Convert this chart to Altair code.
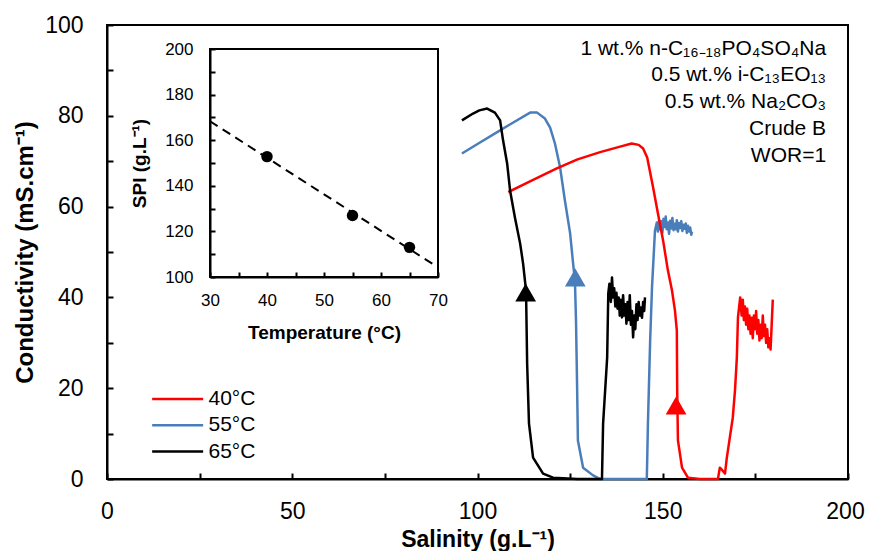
import altair as alt
import pandas as pd

# ---------------- data ----------------
series_names = ["40°C", "55°C", "65°C"]
series_colors = ["#FF0000", "#4A7EBB", "#000000"]

# 40 °C (red)
sal_40 = [108.3, 115.0, 121.4, 127.0, 133.1, 138.0, 141.6, 143.5, 144.7, 145.8, 147.4, 148.7,
          150.1, 151.4, 152.5, 153.3, 153.8, 153.9, 154.1, 155.2, 156.8, 160.0, 164.9, 165.4,
          166.0, 166.8, 167.3, 168.1, 168.9, 169.5, 170.0, 170.3, 170.9,
          171.3, 171.6, 171.9, 172.2, 172.5, 172.8, 173.1, 173.4, 173.7, 174.0, 174.3, 174.6,
          174.9, 175.2, 175.5, 175.8, 176.1, 176.4, 176.7, 177.0, 177.3, 177.6, 177.9, 178.2,
          178.5, 178.8, 179.1, 179.4, 179.7]
cond_40 = [63.2, 65.9, 68.4, 70.4, 72.0, 73.1, 73.9, 73.6, 72.8, 70.8, 64.2, 58.5,
           52.5, 45.9, 41.5, 37.1, 32.7, 19.5, 8.5, 2.5, 0.3, 0.0, 0.0, 2.5,
           2.0, 1.2, 4.7, 9.1, 13.5, 19.5, 26.8, 35.6, 40.0,
           36.0, 39.5, 35.0, 38.0, 34.0, 37.5, 33.0, 36.0, 32.0, 35.5, 31.0, 36.0,
           33.0, 37.0, 32.0, 35.0, 30.5, 34.0, 31.0, 36.0, 31.5, 34.0, 30.0, 33.0,
           29.0, 31.0, 28.5, 34.0, 39.5]

# 55 °C (blue)
sal_55 = [95.8, 100.0, 106.1, 110.0, 114.2, 116.1, 118.2, 119.6, 120.9, 122.3, 123.6, 125.0,
          125.8, 126.3, 126.6, 126.9, 127.1, 128.5, 131.2, 133.1, 140.0, 145.7, 146.0, 146.6,
          147.1, 147.9, 148.4,
          148.7, 149.0, 149.3, 149.6, 149.9, 150.2, 150.5, 150.8, 151.1, 151.4, 151.7, 152.0,
          152.3, 152.6, 152.9, 153.2, 153.5, 153.8, 154.1, 154.4, 154.7, 155.0, 155.3, 155.6,
          155.9, 156.2, 156.5, 156.8, 157.1, 157.4, 157.7, 157.9]
cond_55 = [71.7, 73.8, 76.8, 78.7, 80.7, 80.7, 79.4, 77.4, 73.9, 68.6, 61.3, 54.1,
           47.5, 43.7, 34.3, 19.5, 8.5, 2.5, 0.8, 0.0, 0.0, 0.0, 12.2, 30.5,
           42.2, 54.7, 56.5,
           54.5, 57.0, 55.0, 56.8, 54.2, 57.3, 55.5, 57.8, 55.0, 56.5, 54.0, 56.9,
           55.2, 57.5, 54.8, 56.2, 55.0, 57.0, 54.5, 56.4, 55.3, 56.8, 54.6, 56.0,
           55.1, 56.3, 54.2, 55.8, 54.5, 55.4, 53.8, 54.5]

# 65 °C (black)
sal_65 = [95.8, 98.8, 100.5, 102.6, 104.7, 106.1, 106.9, 108.0, 108.8, 110.1, 111.5, 112.3,
          113.1, 113.4, 113.9, 115.0, 117.7, 120.4, 127.0, 133.6, 133.9, 135.0, 135.3,
          135.6, 136.0, 136.3, 136.6, 136.9, 137.2, 137.5, 137.8, 138.1, 138.4, 138.7, 139.0,
          139.3, 139.6, 139.9, 140.2, 140.5, 140.8, 141.1, 141.4, 141.7, 142.0, 142.3, 142.6,
          142.9, 143.2, 143.5, 143.8, 144.1, 144.4, 144.7, 145.0, 145.2]
cond_65 = [79.0, 80.5, 81.2, 81.6, 80.7, 79.0, 74.6, 69.5, 63.5, 57.6, 51.9, 47.5,
           41.5, 25.4, 12.2, 4.7, 1.2, 0.3, 0.0, 0.0, 12.2, 26.8, 40.9,
           43.0, 39.0, 44.4, 40.0, 42.0, 38.0, 41.0, 37.5, 40.0, 36.0, 39.5, 35.6,
           40.5, 36.0, 38.5, 34.2, 39.0, 35.0, 40.5, 34.0, 37.0, 31.2, 36.0, 33.0,
           38.5, 35.0, 39.0, 36.0, 37.8, 35.5, 39.0, 37.0, 40.0]

# arrow heads
arrow_series = ["40°C", "55°C", "65°C"]
arrow_sal = [153.6, 126.4, 113.0]
arrow_cond = [16.2, 44.4, 41.1]

# inset: SPI vs temperature
inset_temp = [40, 55, 65]
inset_spi = [152.8, 127.0, 113.0]

# axes
x_domain = [0, 200]
y_domain = [0, 100]
x_ticks = list(range(0, 201, 25))
y_ticks = list(range(0, 101, 10))
inset_x_domain = [30, 70]
inset_y_domain = [100, 200]
inset_x_ticks = list(range(30, 71, 5))
inset_y_ticks = list(range(100, 201, 10))

annotation_lines = ["1 wt.% n-C₁₆₋₁₈PO₄SO₄Na", "0.5 wt.% i-C₁₃EO₁₃",
                    "0.5 wt.% Na₂CO₃", "Crude B", "WOR=1"]

FONT = "Liberation Sans, Arial, sans-serif"

# ---------------- build tables ----------------
rows = []
for name, xs_, ys_ in [("55°C", sal_55, cond_55), ("40°C", sal_40, cond_40), ("65°C", sal_65, cond_65)]:
    for i, (a, b) in enumerate(zip(xs_, ys_)):
        rows.append({"series": name, "sal": a, "cond": b, "idx": i})
curves = pd.DataFrame(rows)
arrows = pd.DataFrame({"series": arrow_series, "sal": arrow_sal, "cond": arrow_cond})
inset_df = pd.DataFrame({"T": inset_temp, "SPI": inset_spi})

W, H = 741, 454

xs = alt.Scale(domain=x_domain, nice=False, zero=False)
ys = alt.Scale(domain=y_domain, nice=False, zero=False)

common_axis = dict(grid=False, domainColor="black", domainWidth=2, tickColor="black",
                   tickWidth=2, labelColor="black", titleColor="black",
                   labelFont=FONT, titleFont=FONT, titleFontWeight="bold")

# negative tick size (via expression) draws the ticks inside the frame
x_axis = alt.Axis(orient="bottom", values=x_ticks,
                  labelExpr="datum.value % 50 == 0 ? datum.label : ''",
                  labelOffset={"condition": {"test": "datum.value == 200", "value": -3}, "value": 0},
                  title="Salinity (g.L⁻¹)", labelFontSize=23, titleFontSize=23,
                  tickSize={"expr": "-6"}, labelPadding=27, labelFlush=False,
                  labelOverlap=False, titleY=67.5, titleBaseline="alphabetic", **common_axis)
y_axis = alt.Axis(orient="left", values=y_ticks,
                  labelExpr="datum.value % 20 == 0 ? datum.label : ''",
                  title="Conductivity (mS.cm⁻¹)", labelFontSize=23, titleFontSize=24,
                  tickSize={"expr": "-6"}, labelPadding=30, labelOverlap=False,
                  titleX=-82, titleBaseline="middle", **common_axis)

legend = alt.Legend(orient="none", legendX=43.5, legendY=359, title=None,
                    symbolType="M-1,0H2.82", symbolSize=713, symbolStrokeWidth=2.5,
                    labelFontSize=21, labelFont=FONT, labelColor="black",
                    labelOffset=28, rowPadding=1.3, padding=0)

lines = alt.Chart(curves).mark_line(strokeWidth=2.5, strokeJoin="round").encode(
    x=alt.X("sal:Q", scale=xs, axis=x_axis),
    y=alt.Y("cond:Q", scale=ys, axis=y_axis),
    color=alt.Color("series:N", scale=alt.Scale(domain=series_names, range=series_colors),
                    legend=legend),
    order="idx:Q",
)

heads = alt.Chart(arrows).mark_point(shape="triangle-up", filled=True, size=430, opacity=1).encode(
    x=alt.X("sal:Q", scale=xs, axis=None),
    y=alt.Y("cond:Q", scale=ys, axis=None),
    fill=alt.Fill("series:N", scale=alt.Scale(domain=series_names, range=series_colors),
                  legend=None),
)

note = alt.Chart(pd.DataFrame({"k": [0]})).mark_text(
    text=annotation_lines, align="right", baseline="top", fontSize=21,
    lineHeight=26.7, font=FONT, color="black"
).encode(
    x=alt.X(datum=194.1, scale=xs, axis=None),
    y=alt.Y(datum=97.2, scale=ys, axis=None),
)

# ---------------- inset ----------------
ixs = alt.Scale(domain=inset_x_domain, range=[103, 331], nice=False, zero=False)
iys = alt.Scale(domain=inset_y_domain, range=[252, 24], nice=False, zero=False)

ix_axis = alt.Axis(orient="bottom", offset=-202, values=inset_x_ticks,
                   labelExpr="datum.value % 10 == 0 ? datum.label : ''",
                   title="Temperature (°C)", labelFontSize=17, titleFontSize=19,
                   tickSize={"expr": "-5"}, labelPadding=20.5, labelFlush=False,
                   labelOverlap=False, titleY=55, titleBaseline="middle", **common_axis)
iy_axis = alt.Axis(orient="left", offset=-103, values=inset_y_ticks,
                   labelExpr="datum.value % 20 == 0 ? datum.label : ''",
                   title="SPI (g.L⁻¹)", labelFontSize=17, titleFontSize=19,
                   tickSize={"expr": "-5"}, labelPadding=22, labelOverlap=False,
                   titleX=-71, titleBaseline="middle", **common_axis)

frame = alt.Chart(pd.DataFrame({"k": [0]})).mark_rect(
    fillOpacity=0, stroke="black", strokeWidth=2
).encode(
    x=alt.X(datum=inset_x_domain[0], scale=ixs, axis=None),
    x2=alt.X2(datum=inset_x_domain[1]),
    y=alt.Y(datum=inset_y_domain[0], scale=iys, axis=None),
    y2=alt.Y2(datum=inset_y_domain[1]),
)

fit = alt.Chart(inset_df).transform_regression(
    "T", "SPI", extent=inset_x_domain
).mark_line(color="black", strokeDash=[9, 6], strokeWidth=2).encode(
    x=alt.X("T:Q", scale=ixs, axis=None),
    y=alt.Y("SPI:Q", scale=iys, axis=None),
)

pts = alt.Chart(inset_df).mark_circle(size=130, color="black", opacity=1).encode(
    x=alt.X("T:Q", scale=ixs, axis=ix_axis),
    y=alt.Y("SPI:Q", scale=iys, axis=iy_axis),
)

chart = alt.layer(lines, heads, note, pts, frame, fit).resolve_scale(
    x="independent", y="independent"
).properties(
    width=W, height=H, autosize="none",
    padding={"left": 99, "top": 17, "right": 17, "bottom": 72},
).configure(font=FONT).configure_view(
    stroke="black", strokeWidth=2
)

chart.save("out.html", embed_options={"renderer": "svg", "actions": False})
